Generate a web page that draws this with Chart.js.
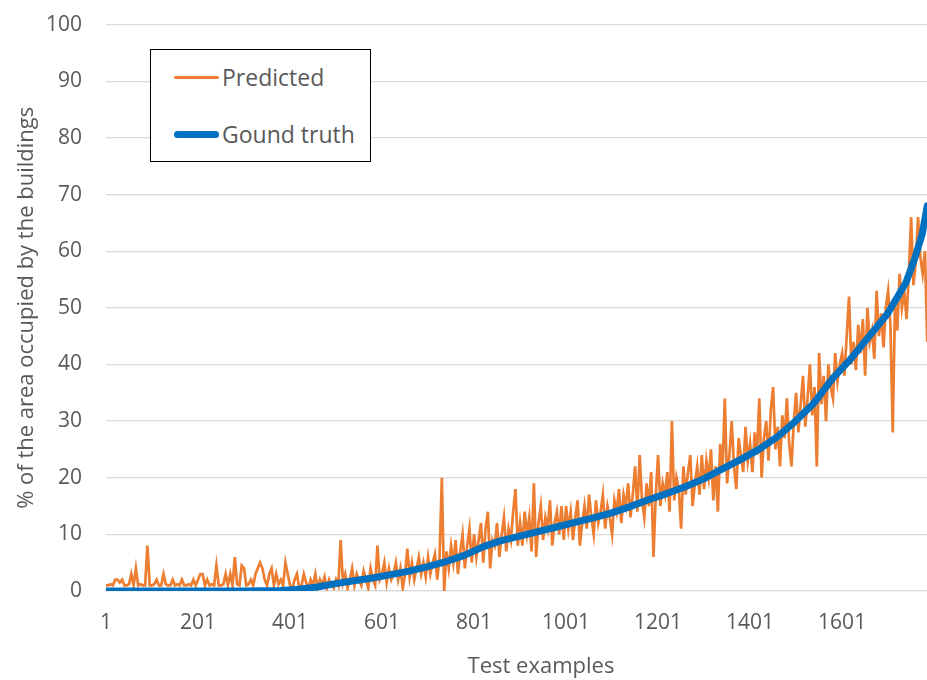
<!DOCTYPE html>
<html>
<head>
<meta charset="utf-8">
<script src="https://cdn.jsdelivr.net/npm/chart.js@4/dist/chart.umd.min.js"></script>
<style>
  html, body { margin: 0; padding: 0; background: #fff; }
  #wrap { position: relative; width: 927px; height: 680px; overflow: hidden; }
  #c { position: absolute; left: 0; top: -12px; }
  #legend { position: absolute; left: 150px; top: 49px; width: 219px; height: 111px;
            border: 1.5px solid #000; background: #fff; font-family: "Open Sans", sans-serif;
            font-size: 23px; color: #595959; }
  .item { position: absolute; left: 0; height: 30px; }
  .swatch { position: absolute; left: 23px; width: 45px; border-radius: 4px; }
  .lbl { position: absolute; left: 71px; white-space: nowrap; line-height: 30px; }
</style>
</head>
<body>
<div id="wrap">
  <canvas id="c" width="976" height="692"></canvas>
  <div id="legend">
    <div class="item" style="top:12px"><div class="swatch" style="top:14px;height:3px;background:#ED7D31"></div><div class="lbl" id="l0"></div></div>
    <div class="item" style="top:69px"><div class="swatch" style="top:12px;height:7px;background:#0070C0"></div><div class="lbl" id="l1"></div></div>
  </div>
</div>
<script>
const seriesNames = ["Predicted", "Gound truth"];
const xTitle = "Test examples";
const yTitle = "% of the area occupied by the buildings";
const xTickValues = [1, 201, 401, 601, 801, 1001, 1201, 1401, 1601];
const yMin = 0, yMax = 100, yStep = 10;
const xMin = 1, xMax = 1892;   // plot area continues past the cropped right edge

// Ground truth (sorted) : [test example index, %]
const groundTruth = [
  [1,0],[100,0],[200,0],[300,0],[380,0.1],[420,0.3],[460,0.7],[500,1.3],[540,1.8],[580,2.3],
  [620,2.9],[660,3.5],[700,4.3],[740,5.2],[780,6.3],[820,7.8],[860,8.9],[900,9.7],[940,10.5],
  [980,11.3],[1020,12.1],[1060,12.9],[1100,13.8],[1140,14.9],[1180,16.1],[1220,17.2],[1260,18.4],
  [1300,19.8],[1340,21.5],[1380,23.2],[1420,25.0],[1460,27.2],[1500,30.0],[1540,33.2],[1580,37.5],
  [1620,41.0],[1660,45.0],[1700,49.0],[1740,54.5],[1760,59.0],[1775,63.0],[1786,68.0]
];

// Predicted, read every 5 test examples starting at 1 (index = 1 + 5*position)
const predIndex = [];
const predicted = [
  // 1 - 96
  1,1,1.2,1,2,2,1.5,2,1,1,1.2,3,1,4,1,1.2,1,1,8,1,
  // 101 - 196
  1,1.2,2,1,1,3,1.2,1,1,2,1,1.2,1,2,1,1,1.2,1,2,1,
  // 201 - 296
  2,3,3,1,2,1,1.2,1,4.5,1,1,1.2,3,1,3,1,6,1.2,1,4.5,
  // 301 - 396
  4,1,1.2,2,1,3,4,5,4,2,1,3,4,1,3,1.2,2,1,5,3,
  // 401 - 496
  1,0.5,2,3,0.5,1,3,1.5,0.5,2,1,3,0.5,2,1,2.5,0.5,2,1,0.5,
  // 501 - 596
  2,1,9,1.5,3,0.5,2,4,1,3,2,1,3.5,2,0.5,4,2,1,8,2,
  // 601 - 696
  3,5,1.5,4,2,3,5,2,4,0.5,3,7.5,2.5,5,2,4,6,3,5,2.5,
  // 701 - 796
  6,3,5,6.5,2,6,20,0,7,4,8,5,9,3,7,10,4,8,11,5,
  // 801 - 896
  10,6,9,12,5,11,14,4,9,8,12,6,10,13,7,11,9,14,18,8,
  // 901 - 996
  12,8,14,10,13,7,19,6,12,15,9,13,11,16,8,12,14,10,15,9,
  // 1001 - 1096
  15,11,14,9,13,16,8,12,15,11,17,13,10,16,12,14,17,11,15,13,
  // 1101 - 1196
  10,16,14,18,12,17,15,19,13,17,22,14,24,16,13,19,15,21,6,17,
  // 1201 - 1296
  24,15,19,17,21,14,30,16,20,18,11,22,17,21,24,15,19,22,17,24,
  // 1301 - 1396
  18,23,20,25,16,22,14,26,21,34,19,24,30,22,18,27,24,21,29,23,
  // 1401 - 1496
  26,21,28,24,34,20,27,30,23,32,36,25,29,22,31,27,34,26,22,30,
  // 1501 - 1596
  35,28,33,38,29,34,40,31,36,22,42,33,38,30,40,36,34,42,37,40,
  // 1601 - 1696
  42,38,45,52,40,44,39,47,42,48,38,50,44,46,41,53,45,49,43,50,
  // 1701 - 1786
  53,47,28,51,46,56,50,53,48,56,66,54,58,66,59,56,60,44
];
for (let i = 0; i < predicted.length; i++) predIndex.push(1 + 5 * i);

document.getElementById('l0').textContent = seriesNames[0];
document.getElementById('l1').textContent = seriesNames[1];

const TXT = '#595959';
const FONT = '"Open Sans", sans-serif';

new Chart(document.getElementById('c'), {
  type: 'line',
  data: {
    datasets: [
      { label: seriesNames[1], data: groundTruth.map(p => ({x: p[0], y: p[1]})),
        borderColor: '#0070C0', borderWidth: 7, pointRadius: 0, tension: 0,
        borderCapStyle: 'round', borderJoinStyle: 'round', order: 0 },
      { label: seriesNames[0], data: predicted.map((v, i) => ({x: predIndex[i], y: v})),
        borderColor: '#ED7D31', borderWidth: 2.7, pointRadius: 0, tension: 0, order: 1 }
    ]
  },
  options: {
    responsive: false,
    animation: false,
    layout: { padding: { left: 0, right: 0, top: 10, bottom: 0 } },
    plugins: { legend: { display: false }, tooltip: { enabled: false } },
    scales: {
      x: {
        type: 'linear', min: xMin, max: xMax,
        afterBuildTicks: s => { s.ticks = xTickValues.map(v => ({ value: v })); },
        afterFit: s => { s.height = 89; },
        grid: { display: false, drawTicks: false },
        border: { display: true, color: '#D9D9D9', width: 1.3 },
        ticks: { color: TXT, font: { family: FONT, size: 21 }, padding: 19, maxRotation: 0,
                 autoSkip: false, callback: v => String(v) },
        title: { display: true, text: xTitle, color: TXT, font: { family: FONT, size: 22 },
                 padding: { top: 0, bottom: 0 } }
      },
      y: {
        min: yMin, max: yMax,
        afterFit: s => { s.width = 106; },
        grid: { color: '#D9D9D9', lineWidth: 1.3, drawTicks: false },
        border: { display: false },
        ticks: { stepSize: yStep, color: TXT, font: { family: FONT, size: 21 }, padding: 24 },
        title: { display: true, text: yTitle, color: TXT, font: { family: FONT, size: 22 },
                 padding: { top: 14, bottom: 0 } }
      }
    }
  }
});
</script>
</body>
</html>
